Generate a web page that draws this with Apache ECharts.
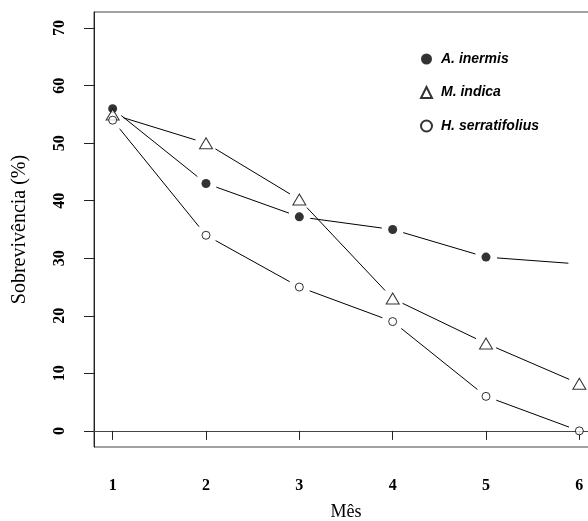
<!DOCTYPE html>
<html><head><meta charset="utf-8">
<script src="https://cdn.jsdelivr.net/npm/echarts@6/dist/echarts.min.js"></script>
<style>html,body{margin:0;padding:0;background:#fff}#c{width:588px;height:521px}</style>
</head><body><div id="c"></div>
<script>
const months = [1, 2, 3, 4, 5, 6];
const inermis = [56, 43, 37.2, 35, 30.2, 29];
const indica = [55, 50, 40.2, 23, 15.2, 8.2];
const serratifolius = [54, 34, 25, 19, 6, 0];
const xTicks = [1, 2, 3, 4, 5, 6];
const yTicks = [0, 10, 20, 30, 40, 50, 60, 70];
const names = ['A. inermis', 'M. indica', 'H. serratifolius'];
const inermisMarked = [true, true, true, true, true, false];

function segs(vals) {
  const out = [];
  for (let i = 1; i < vals.length; i++) out.push([months[i-1], vals[i-1], months[i], vals[i]]);
  return out;
}
const GAP = 11;
function renderSeg(params, api) {
  const p1 = api.coord([api.value(0), api.value(1)]);
  const p2 = api.coord([api.value(2), api.value(3)]);
  const dx = p2[0]-p1[0], dy = p2[1]-p1[1];
  const L = Math.sqrt(dx*dx+dy*dy);
  if (L <= 2*GAP) return null;
  const ux = dx/L, uy = dy/L;
  return {type:'line', shape:{x1:p1[0]+ux*GAP, y1:p1[1]+uy*GAP, x2:p2[0]-ux*GAP, y2:p2[1]-uy*GAP},
    style:{stroke:'#000', lineWidth:1}};
}
function lineSeries(vals) {
  return {type:'custom', renderItem:renderSeg, data:segs(vals), silent:true, z:2,
    encode:{x:[0,2], y:[1,3]}};
}
const chart = echarts.init(document.getElementById('c'), null, {renderer:'canvas'});
chart.setOption({
  animation:false,
  grid:{left:94, top:12, width:504, height:435, show:true, borderColor:'#444', borderWidth:1,
    backgroundColor:'transparent', containLabel:false, outerBoundsMode:'none'},
  xAxis:{type:'value', min:0.8, max:6.2, name:'Mês', nameLocation:'middle', nameGap:56,
    nameTextStyle:{fontFamily:'Liberation Serif', fontSize:18, color:'#000'},
    axisLine:{show:true, lineStyle:{color:'#444'}}, splitLine:{show:false},
    axisTick:{show:true, customValues:xTicks, length:9, lineStyle:{color:'#222'}},
    axisLabel:{customValues:xTicks, margin:31, fontFamily:'Liberation Serif', fontWeight:'bold', fontSize:16, color:'#000'}},
  yAxis:{type:'value', min:-2.8, max:72.8, name:'Sobrevivência (%)', nameLocation:'middle', nameGap:64, nameRotate:90,
    nameTextStyle:{fontFamily:'Liberation Serif', fontSize:20, color:'#000'},
    axisLine:{show:true, lineStyle:{color:'#222'}}, splitLine:{show:false},
    axisTick:{show:true, customValues:yTicks, length:10, lineStyle:{color:'#222'}},
    axisLabel:{customValues:yTicks, rotate:90, margin:26, fontFamily:'Liberation Serif', fontWeight:'bold', fontSize:16, color:'#000'}},
  legend:{orient:'vertical', left:415, top:47, itemGap:19.5, itemWidth:11, itemHeight:11,
    data:names,
    textStyle:{fontFamily:'Liberation Sans', fontStyle:'italic', fontWeight:'bold', fontSize:14, color:'#000', padding:[0,0,0,4]}},
  series:[
    lineSeries(inermis), lineSeries(indica), lineSeries(serratifolius),
    {name:names[0], type:'scatter', z:3, symbol:'circle', symbolSize:9,
      itemStyle:{color:'#000'},
      data:months.map((m,i)=>({value:[m, inermis[i]], symbol: inermisMarked[i] ? 'circle' : 'none'}))},
    {name:names[1], type:'scatter', z:3, symbol:'triangle', symbolSize:[13,11],
      itemStyle:{color:'#fff', borderColor:'#000', borderWidth:1},
      data:months.map((m,i)=>[m, indica[i]])},
    {name:names[2], type:'scatter', z:3, symbol:'circle', symbolSize:8,
      itemStyle:{color:'#fff', borderColor:'#000', borderWidth:1},
      data:months.map((m,i)=>[m, serratifolius[i]])}
  ]
});
</script></body></html>
